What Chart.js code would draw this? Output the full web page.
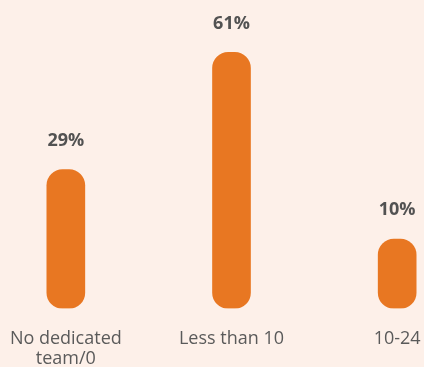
<!DOCTYPE html>
<html>
<head>
<meta charset="utf-8">
<script src="https://cdn.jsdelivr.net/npm/chart.js@4/dist/chart.umd.min.js"></script>
<style>
  html, body { margin: 0; padding: 0; background: #fdf0e9; overflow: hidden; height: 367px; }
  #wrap { position: absolute; left: -17px; top: 0; width: 497px; height: 382px; }
</style>
</head>
<body>
<div id="wrap"><canvas id="bar"></canvas></div>
<script>
const categories = [["No dedicated", "team/0"], "Less than 10", "10-24"];
const shares = [29, 61, 10];

const orange = "#e87722";
const darkText = "#525252";

// draws "29%" etc above each bar
const valueLabels = {
  id: "valueLabels",
  afterDatasetsDraw(chart) {
    const ctx = chart.ctx;
    const meta = chart.getDatasetMeta(0);
    ctx.save();
    ctx.font = "bold 18px 'Open Sans'";
    ctx.fillStyle = darkText;
    ctx.textAlign = "center";
    ctx.textBaseline = "middle";
    meta.data.forEach((bar, i) => {
      ctx.fillText(shares[i] + "%", bar.x, bar.y - 29);
    });
    ctx.restore();
  },
};

const ctxBar = document.getElementById("bar");
const barChart = new Chart(ctxBar, {
  type: "bar",
  data: {
    labels: categories,
    datasets: [
      {
        data: shares,
        base: -8.9,
        backgroundColor: orange,
        barThickness: 38,
        borderRadius: 16,
        borderSkipped: false,
      },
    ],
  },
  options: {
    responsive: true,
    maintainAspectRatio: false,
    animation: false,
    layout: { padding: 0 },
    plugins: {
      legend: { display: false },
      tooltip: { enabled: false },
    },
    scales: {
      x: {
        grid: { display: false },
        border: { display: false },
        ticks: {
          color: "#5a5a5a",
          padding: 13,
          maxRotation: 0,
          font: { family: "'Open Sans'", size: 18, lineHeight: 1.1 },
        },
      },
      y: {
        display: false,
        min: -8.9,
        max: 75.3,
      },
    },
  },
  plugins: [valueLabels],
});
</script>
</body>
</html>
